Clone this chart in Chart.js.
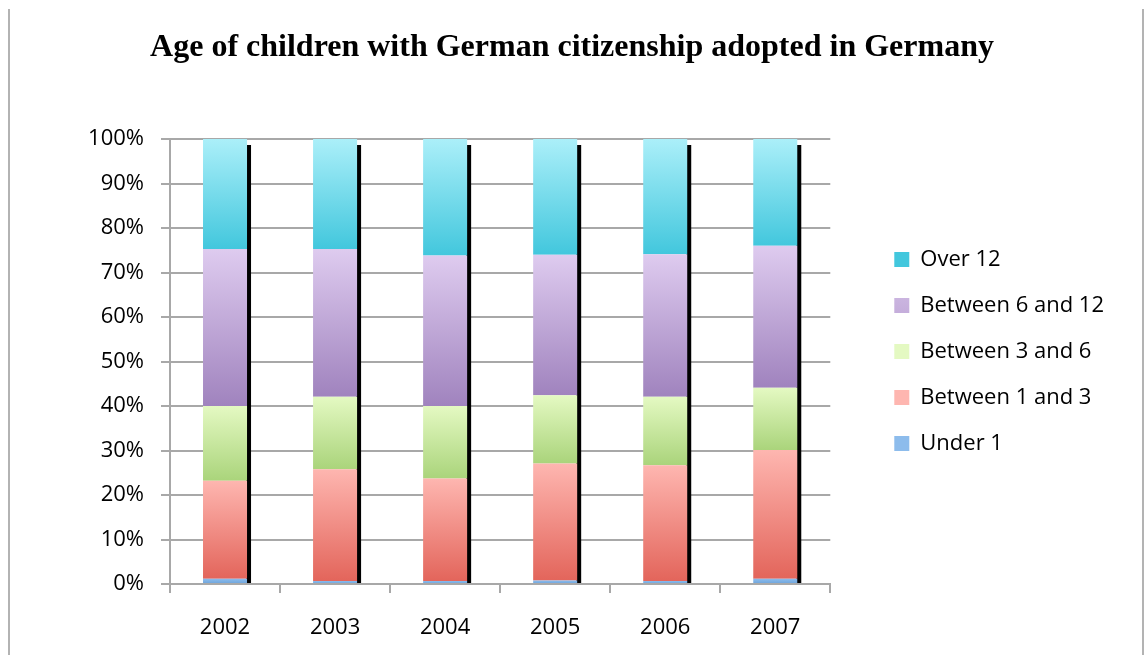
<!DOCTYPE html>
<html>
<head>
<meta charset="utf-8">
<title>Age of children with German citizenship adopted in Germany</title>
<script src="https://cdn.jsdelivr.net/npm/chart.js@4/dist/chart.umd.min.js"></script>
<style>
    html, body { margin: 0; padding: 0; background: #fff; }
    #frame {
        position: absolute; left: 8px; top: 9px; width: 1132px; height: 646px;
        border-left: 2px solid #b3b3b3; border-right: 2px solid #b3b3b3;
    }
    #wrap { position: absolute; left: 0; top: 0; width: 1144px; height: 655px; }
</style>
</head>
<body>
<div id="frame"></div>
<div id="wrap"><canvas id="ageChart"></canvas></div>
<script>
// Dữ liệu (phần trăm mỗi nhóm tuổi)
const years = ['2002', '2003', '2004', '2005', '2006', '2007'];
const under1     = [1.2, 0.7, 0.7, 0.8, 0.7, 1.2];
const from1to3   = [22.0, 25.1, 23.0, 26.3, 26.0, 28.9];
const from3to6   = [16.8, 16.3, 16.3, 15.3, 15.4, 14.0];
const from6to12  = [35.3, 33.2, 33.8, 31.6, 32.0, 31.9];
const over12     = [24.7, 24.7, 26.2, 26.0, 25.9, 24.0];
const yTicks     = [0, 10, 20, 30, 40, 50, 60, 70, 80, 90, 100];

const series = [under1, from1to3, from3to6, from6to12, over12];

const LEGEND_GAP = 40;    // khoảng trống giữa vùng vẽ và chú thích
const LEGEND_RIGHT = 30;  // lề phải sau chú thích
const LEGEND_DROP = 24;   // hạ chú thích xuống

// Gradient cho từng đoạn cột: sáng ở trên, đậm ở dưới
function segGradient(top, bottom, flat) {
    return (ctx) => {
        if (ctx.type !== 'data') return flat;
        const chart = ctx.chart;
        const y = chart.scales.y;
        if (!y) return flat;
        const i = ctx.dataIndex, d = ctx.datasetIndex;
        let start = 0;
        for (let k = 0; k < d; k++) start += series[k][i];
        const end = start + series[d][i];
        const y0 = y.getPixelForValue(start);
        const y1 = y.getPixelForValue(end);
        if (!isFinite(y0) || !isFinite(y1) || y0 === y1) return flat;
        const g = chart.ctx.createLinearGradient(0, y1, 0, y0);
        g.addColorStop(0, top);
        g.addColorStop(1, bottom);
        return g;
    };
}

// Bóng đen phía phải mỗi cột
const shadowPlugin = {
    id: 'barShadow',
    beforeDatasetsDraw(chart) {
        const ctx = chart.ctx;
        const y = chart.scales.y;
        const topMeta = chart.getDatasetMeta(series.length - 1);
        ctx.save();
        topMeta.data.forEach((bar) => {
            const right = bar.x + bar.width / 2;
            const yTop = y.getPixelForValue(100) + 6;
            const yBot = y.getPixelForValue(0) - 1;
            ctx.fillStyle = '#000';
            ctx.fillRect(right - 1, yTop, 5, yBot - yTop);
        });
        ctx.restore();
    }
};

// Đẩy chú thích sang phải và xuống dưới
const legendShift = {
    id: 'legendShift',
    beforeLayout(chart) {
        const lg = chart.legend;
        if (lg && !lg._shiftWrapped) {
            const fit = lg.fit.bind(lg);
            lg.fit = function () { fit(); this.width += LEGEND_GAP + LEGEND_RIGHT; };
            lg._shiftWrapped = true;
        }
    },
    afterLayout(chart) {
        const lg = chart.legend;
        if (!lg) return;
        lg.left += LEGEND_GAP;
        lg.top += LEGEND_DROP;
        lg.bottom += LEGEND_DROP;
    }
};

const chart = new Chart(document.getElementById('ageChart'), {
    type: 'bar',
    data: {
        labels: years,
        datasets: [
            { label: 'Under 1',           data: under1,    backgroundColor: segGradient('#8dbcec', '#6ca3db', '#6ea8de') },
            { label: 'Between 1 and 3',   data: from1to3,  backgroundColor: segGradient('#feb6b0', '#e3655b', '#ee8078') },
            { label: 'Between 3 and 6',   data: from3to6,  backgroundColor: segGradient('#e4f9c2', '#aad47b', '#c4e39c') },
            { label: 'Between 6 and 12',  data: from6to12, backgroundColor: segGradient('#decbef', '#a083be', '#b7a0d5') },
            { label: 'Over 12',           data: over12,    backgroundColor: segGradient('#abeff9', '#42c7dd', '#52d0e4') }
        ]
    },
    options: {
        responsive: true,
        maintainAspectRatio: false,
        animation: false,
        datasets: { bar: { categoryPercentage: 1, barPercentage: 0.4, borderWidth: 0 } },
        layout: { padding: { top: 0, bottom: 0, left: 0, right: 0 } },
        plugins: {
            title: {
                display: true,
                text: 'Age of children with German citizenship adopted in Germany',
                color: '#000',
                font: { family: '"Liberation Serif", "Times New Roman", serif', size: 32, weight: 'bold' },
                padding: { top: 29, bottom: 71.6 }
            },
            legend: {
                position: 'right',
                reverse: true,
                labels: {
                    color: '#000',
                    font: { family: '"Open Sans", sans-serif', size: 22 },
                    boxWidth: 15,
                    boxHeight: 15,
                    padding: 24
                }
            },
            tooltip: { enabled: false }
        },
        scales: {
            x: {
                stacked: true,
                afterFit: (scale) => { scale.height = 71; },
                grid: { offset: true, drawOnChartArea: false, color: '#a8a8a8', lineWidth: 2, tickLength: 9 },
                border: { color: '#a8a8a8', width: 2 },
                ticks: { color: '#000', padding: 22, font: { family: '"Open Sans", sans-serif', size: 22 } }
            },
            y: {
                stacked: true,
                min: 0,
                max: 100,
                afterFit: (scale) => { scale.width = 170; },
                afterBuildTicks: (scale) => { scale.ticks = yTicks.map(v => ({ value: v })); },
                grid: { color: '#a8a8a8', lineWidth: 2, tickLength: 9 },
                border: { color: '#a8a8a8', width: 2 },
                ticks: {
                    color: '#000',
                    padding: 17,
                    font: { family: '"Open Sans", sans-serif', size: 22 },
                    callback: (v) => v + '%'
                }
            }
        }
    },
    plugins: [shadowPlugin, legendShift]
});
</script>
</body>
</html>
